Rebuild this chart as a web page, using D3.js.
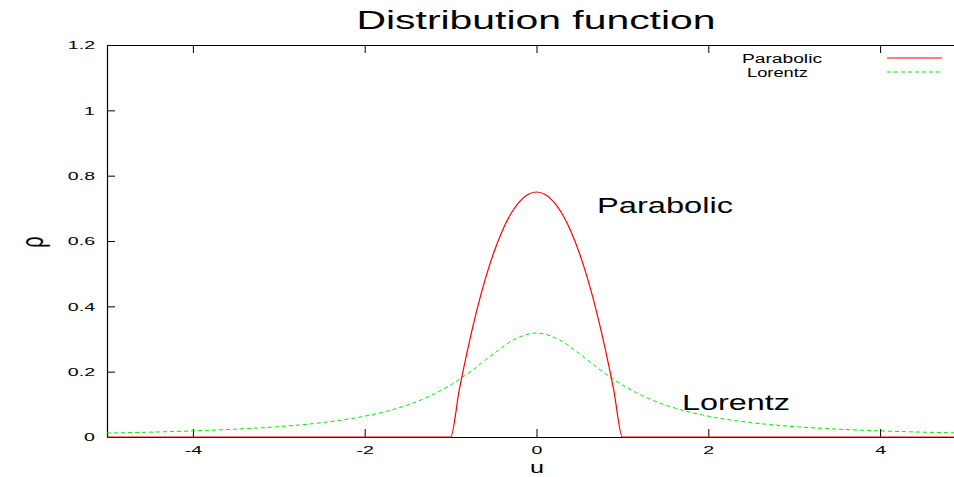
<!DOCTYPE html>
<head>
  <meta charset="utf-8">
  <script src="https://d3js.org/d3.v7.min.js"></script>
  <style>
    body { margin: 0; background: #fff; }
    text { font-family: 'Liberation Sans', Arial, sans-serif; fill: #000; }
    .title { font-size: 26px; }
    .axisLabel { font-size: 17px; }
    .curveLabel { font-size: 22px; }
    .legendText { font-size: 12px; }
  </style>
</head>
<body>
<div id="chart"></div>
<script>

// values
const parabolicU = [-5, -1, -0.9, -0.8, -0.7, -0.6, -0.5, -0.4, -0.3, -0.2, -0.1, 0,
                    0.1, 0.2, 0.3, 0.4, 0.5, 0.6, 0.7, 0.8, 0.9, 1, 5];
const parabolicRho = [0, 0, 0.1425, 0.27, 0.3825, 0.48, 0.5625, 0.63, 0.6825, 0.72, 0.7425, 0.75,
                      0.7425, 0.72, 0.6825, 0.63, 0.5625, 0.48, 0.3825, 0.27, 0.1425, 0, 0];

const lorentzU = [-5, -4.5, -4, -3.5, -3, -2.5, -2, -1.75, -1.5, -1.25, -1, -0.75, -0.5, -0.25, 0,
                  0.25, 0.5, 0.75, 1, 1.25, 1.5, 1.75, 2, 2.5, 3, 3.5, 4, 4.5, 5];
const lorentzRho = [0.0122, 0.0148, 0.0187, 0.0241, 0.0318, 0.0439, 0.0637, 0.0784, 0.0979, 0.1242, 0.1592, 0.2037, 0.2546, 0.2996, 0.3183,
                    0.2996, 0.2546, 0.2037, 0.1592, 0.1242, 0.0979, 0.0784, 0.0637, 0.0439, 0.0318, 0.0241, 0.0187, 0.0148, 0.0122];

const xTicks = [-4, -2, 0, 2, 4];
const yTicks = [0, 0.2, 0.4, 0.6, 0.8, 1, 1.2];

const width = 954, height = 477;
const plotLeft = 107, plotTop = 45, plotBottom = 437, plotRight = 966;
const stretch = 1.7; // the reference text is drawn wide

const svg = d3.select("#chart").append("svg")
    .attr("width", width)
    .attr("height", height);

const x = d3.scaleLinear().domain([-5, 5]).range([plotLeft, plotRight]);
const y = d3.scaleLinear().domain([0, 1.2]).range([plotBottom, plotTop]);

const fmt = d => d === 0 ? "0" : String(d);

// widen a text node horizontally
function widen(sel, len) {
  sel.each(function() {
    const w = len || this.getComputedTextLength() * stretch;
    this.setAttribute("textLength", w);
    this.setAttribute("lengthAdjust", "spacingAndGlyphs");
  });
}

// axes with inward ticks
svg.append("g").attr("class", "xaxis").attr("transform", `translate(0,${plotBottom})`)
  .call(d3.axisBottom(x).tickValues(xTicks).tickFormat(fmt).tickSizeInner(-8).tickSizeOuter(0).tickPadding(9));
svg.append("g").attr("transform", `translate(0,${plotTop})`)
  .call(d3.axisTop(x).tickValues(xTicks).tickFormat("").tickSizeInner(-8).tickSizeOuter(0));
svg.append("g").attr("class", "yaxis").attr("transform", `translate(${plotLeft},0)`)
  .call(d3.axisLeft(y).tickValues(yTicks).tickFormat(fmt).tickSizeInner(-8).tickSizeOuter(0).tickPadding(12));

svg.selectAll(".domain").attr("stroke", "#000").attr("stroke-width", 1.2);
svg.selectAll(".tick line").attr("stroke", "#000");
svg.selectAll(".tick text")
    .attr("font-family", "'Liberation Sans', Arial, sans-serif")
    .attr("font-size", 11.5)
    .call(widen);

const line = d3.line().x(d => x(d[0])).y(d => y(d[1])).curve(d3.curveMonotoneX);

svg.append("path")
    .datum(d3.zip(lorentzU, lorentzRho))
    .attr("d", line)
    .attr("fill", "none")
    .attr("stroke", "#00ee00")
    .attr("stroke-width", 1)
    .attr("stroke-dasharray", "4,3");

svg.append("path")
    .datum(d3.zip(parabolicU, parabolicRho))
    .attr("d", line)
    .attr("fill", "none")
    .attr("stroke", "#ff0000")
    .attr("stroke-width", 1.2);

// titles and labels
svg.append("text").attr("class", "title")
    .attr("x", 536).attr("y", 29).attr("text-anchor", "middle")
    .text("Distribution function")
    .call(widen, 359);

svg.append("text").attr("class", "axisLabel")
    .attr("x", 537).attr("y", 473).attr("text-anchor", "middle")
    .text("u")
    .call(widen, 14);

svg.append("text")
    .style("font-size", "20px")
    .attr("transform", "translate(37,242) scale(1.6,1) rotate(-90)")
    .attr("text-anchor", "middle")
    .attr("dy", "0.2em")
    .text("ρ");

svg.append("text").attr("class", "curveLabel")
    .attr("x", 597).attr("y", 213)
    .text("Parabolic")
    .call(widen, 136);

svg.append("text").attr("class", "curveLabel")
    .attr("x", 682).attr("y", 410)
    .text("Lorentz")
    .call(widen, 108);

// legend
svg.append("text").attr("class", "legendText")
    .attr("x", 742).attr("y", 63)
    .text("Parabolic")
    .call(widen, 80);
svg.append("text").attr("class", "legendText")
    .attr("x", 747).attr("y", 77)
    .text("Lorentz")
    .call(widen, 61);
svg.append("line")
    .attr("x1", 887).attr("x2", 942).attr("y1", 58).attr("y2", 58)
    .attr("stroke", "#ff0000").attr("stroke-width", 1.2);
svg.append("line")
    .attr("x1", 887).attr("x2", 942).attr("y1", 72).attr("y2", 72)
    .attr("stroke", "#00ee00").attr("stroke-dasharray", "4,3");

</script>
</body>
